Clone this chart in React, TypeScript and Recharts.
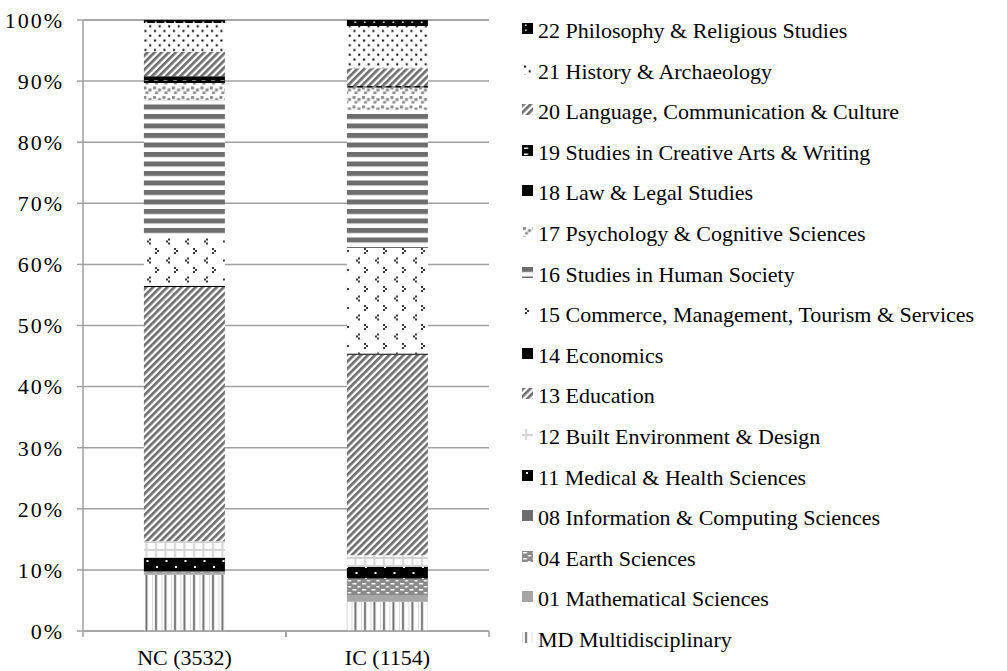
import { BarChart, Bar, XAxis, YAxis, CartesianGrid } from "recharts";

// columns of the stack
const groups = ["NC (3532)", "IC (1154)"];

// share of papers (%) per field of research, [NC, IC]
const mdMultidisciplinary = [9.2, 4.8];
const mathematical = [0.3, 1.1];
const earth = [0.1, 2.5];
const computing = [0.2, 0.2];
const medical = [2.2, 1.9];
const builtEnv = [2.7, 1.9];
const education = [41.6, 32.8];
const economics = [0.2, 0.2];
const commerce = [8.3, 17.3];
const humanSociety = [22.1, 22.6];
const psychology = [2.8, 3.6];
const law = [0.3, 0.1];
const creativeArts = [0.8, 0.2];
const language = [4.0, 2.9];
const history = [4.7, 6.9];
const philosophy = [0.5, 1.0];

const yTicks = [0, 10, 20, 30, 40, 50, 60, 70, 80, 90, 100];

// bottom to top stacking order
const series = [
  { key: "md", name: "MD Multidisciplinary", values: mdMultidisciplinary },
  { key: "f01", name: "01 Mathematical Sciences", values: mathematical },
  { key: "f04", name: "04 Earth Sciences", values: earth },
  { key: "f08", name: "08 Information & Computing Sciences", values: computing },
  { key: "f11", name: "11 Medical & Health Sciences", values: medical },
  { key: "f12", name: "12 Built Environment & Design", values: builtEnv },
  { key: "f13", name: "13 Education", values: education },
  { key: "f14", name: "14 Economics", values: economics },
  { key: "f15", name: "15 Commerce, Management, Tourism & Services", values: commerce },
  { key: "f16", name: "16 Studies in Human Society", values: humanSociety },
  { key: "f17", name: "17 Psychology & Cognitive Sciences", values: psychology },
  { key: "f18", name: "18 Law & Legal Studies", values: law },
  { key: "f19", name: "19 Studies in Creative Arts & Writing", values: creativeArts },
  { key: "f20", name: "20 Language, Communication & Culture", values: language },
  { key: "f21", name: "21 History & Archaeology", values: history },
  { key: "f22", name: "22 Philosophy & Religious Studies", values: philosophy },
];

const data = groups.map((g, i) => {
  const row: Record<string, string | number> = { name: g };
  series.forEach((s) => (row[s.key] = s.values[i]));
  return row;
});

const DARK = "#6e6e6e";
const FONT = "'Liberation Serif', 'Times New Roman', serif";
const HALF_BAND = 101.5;

function Patterns() {
  return (
    <svg width={0} height={0} style={{ position: "absolute" }}>
      <defs>
        <pattern id="p-md" patternUnits="userSpaceOnUse" width={9.5} height={10}>
          <rect width={9.5} height={10} fill="#fff" />
          <rect x={0} width={1} height={10} fill="#d8d8d8" />
          <rect x={3} width={2} height={10} fill={DARK} />
        </pattern>
        <pattern id="p-f01" patternUnits="userSpaceOnUse" width={10} height={10}>
          <rect width={10} height={10} fill="#a6a6a6" />
        </pattern>
        <pattern id="p-f04" patternUnits="userSpaceOnUse" width={9.5} height={6}>
          <rect width={9.5} height={6} fill="#8a8a8a" />
          <rect x={1} y={1} width={4} height={1.5} fill="#fff" />
          <rect x={6} y={4} width={3} height={1.5} fill="#fff" />
        </pattern>
        <pattern id="p-f08" patternUnits="userSpaceOnUse" width={10} height={10}>
          <rect width={10} height={10} fill={DARK} />
        </pattern>
        <pattern id="p-f11" patternUnits="userSpaceOnUse" width={19} height={12}>
          <rect width={19} height={12} fill="#000" />
          <rect x={4} y={2} width={2} height={2} fill="#fff" />
          <rect x={13.5} y={8} width={2} height={2} fill="#fff" />
        </pattern>
        <pattern id="p-f12" patternUnits="userSpaceOnUse" width={9.5} height={8}>
          <rect width={9.5} height={8} fill="#fff" />
          <rect x={3} width={2} height={8} fill="#d4d4d4" />
          <rect y={5} width={9.5} height={2} fill="#d4d4d4" />
        </pattern>
        <pattern id="p-f13" patternUnits="userSpaceOnUse" width={5} height={5} patternTransform="rotate(45)">
          <rect width={5} height={5} fill="#fff" />
          <rect width={2.7} height={5} fill={DARK} />
        </pattern>
        <pattern id="p-f14" patternUnits="userSpaceOnUse" width={10} height={10}>
          <rect width={10} height={10} fill="#000" />
        </pattern>
        <pattern id="p-f15" patternUnits="userSpaceOnUse" width={19} height={19}>
          <rect width={19} height={19} fill="#fff" />
          <rect x={3} y={1} width={2} height={2} fill="#3a3a3a" />
          <rect x={5} y={3} width={2} height={2} fill="#3a3a3a" />
          <rect x={3} y={5} width={2} height={2} fill="#3a3a3a" />
          <rect x={16} y={10.5} width={2} height={2} fill="#3a3a3a" />
          <rect x={14} y={12.5} width={2} height={2} fill="#3a3a3a" />
          <rect x={16} y={14.5} width={2} height={2} fill="#3a3a3a" />
        </pattern>
        <pattern id="p-f16" patternUnits="userSpaceOnUse" width={10} height={9.5}>
          <rect width={10} height={9.5} fill="#fff" />
          <rect width={10} height={5} fill={DARK} />
        </pattern>
        <pattern id="p-f17" patternUnits="userSpaceOnUse" width={9.5} height={9.5}>
          <rect width={9.5} height={9.5} fill="#fff" />
          <rect x={1} y={1} width={3} height={3} fill="#8a8a8a" />
          <rect x={6} y={3} width={3} height={3} fill="#8a8a8a" />
          <rect x={3} y={6} width={3} height={2.5} fill="#8a8a8a" />
        </pattern>
        <pattern id="p-f18" patternUnits="userSpaceOnUse" width={10} height={10}>
          <rect width={10} height={10} fill="#000" />
        </pattern>
        <pattern id="p-f19" patternUnits="userSpaceOnUse" width={9.5} height={6}>
          <rect width={9.5} height={6} fill="#000" />
          <rect x={2} y={2.5} width={4} height={1.5} fill="#fff" />
        </pattern>
        <pattern id="p-f20" patternUnits="userSpaceOnUse" width={5} height={5} patternTransform="rotate(45)">
          <rect width={5} height={5} fill="#fff" />
          <rect width={2.7} height={5} fill={DARK} />
        </pattern>
        <pattern id="p-f21" patternUnits="userSpaceOnUse" width={9.5} height={9.5}>
          <rect width={9.5} height={9.5} fill="#fff" />
          <rect x={2} y={1.5} width={2} height={2} fill="#000" />
          <rect x={6.75} y={6.25} width={2} height={2} fill="#000" />
        </pattern>
        <pattern id="p-f22" patternUnits="userSpaceOnUse" width={9.5} height={5}>
          <rect width={9.5} height={5} fill="#000" />
          <rect x={3} y={1.5} width={1.5} height={1.5} fill="#fff" />
        </pattern>
      </defs>
    </svg>
  );
}

function XTick(props: any) {
  const { x, y, payload } = props;
  return (
    <g>
      <line x1={x - HALF_BAND} x2={x - HALF_BAND} y1={y} y2={y + 6} stroke="#a0a0a0" strokeWidth={1.5} />
      <line x1={x + HALF_BAND} x2={x + HALF_BAND} y1={y} y2={y + 6} stroke="#a0a0a0" strokeWidth={1.5} />
      <text x={x} y={y + 34} textAnchor="middle" fontFamily={FONT} fontSize={22} fill="#000">
        {payload.value}
      </text>
    </g>
  );
}

function SideLegend() {
  const items = [...series].reverse();
  return (
    <div style={{ position: "absolute", left: 0, top: 0 }}>
      {items.map((s, i) => (
        <div
          key={s.key}
          style={{
            position: "absolute",
            left: 522,
            top: 31 + i * 40.6 - 13,
            height: 26,
            display: "flex",
            alignItems: "center",
            whiteSpace: "nowrap",
            fontFamily: FONT,
            fontSize: 22,
            lineHeight: "26px",
            color: "#000",
          }}
        >
          <svg width={11} height={11} style={{ marginTop: -5, marginRight: 5 }}>
            <rect width={11} height={11} fill={`url(#p-${s.key})`} />
          </svg>
          <span>{s.name}</span>
        </div>
      ))}
    </div>
  );
}

export default function App() {
  return (
    <div style={{ position: "absolute", left: 0, top: 0, width: 1007, height: 671, background: "#fff" }}>
      <Patterns />
      <BarChart
        width={1007}
        height={671}
        data={data}
        margin={{ top: 20, right: 518, bottom: 0, left: 0 }}
        barCategoryGap="30%"
      >
        <CartesianGrid vertical={false} stroke="#a0a0a0" strokeWidth={1.5} />
        <XAxis
          dataKey="name"
          height={40}
          tickLine={false}
          tickSize={0}
          tickMargin={0}
          axisLine={{ stroke: "#a0a0a0", strokeWidth: 1.5 }}
          tick={<XTick />}
          interval={0}
        />
        <YAxis
          width={83}
          domain={[0, 100]}
          ticks={yTicks}
          interval={0}
          tickSize={6}
          tickMargin={13}
          tickFormatter={(v) => `${v}%`}
          axisLine={{ stroke: "#a0a0a0", strokeWidth: 1.5 }}
          tickLine={{ stroke: "#a0a0a0", strokeWidth: 1.5 }}
          tick={{ fontFamily: FONT, fontSize: 22, fill: "#000", letterSpacing: 2 }}
        />
        {series.map((s) => (
          <Bar
            key={s.key}
            dataKey={s.key}
            name={s.name}
            stackId="a"
            fill={`url(#p-${s.key})`}
            isAnimationActive={false}
          />
        ))}
      </BarChart>
      <SideLegend />
    </div>
  );
}
